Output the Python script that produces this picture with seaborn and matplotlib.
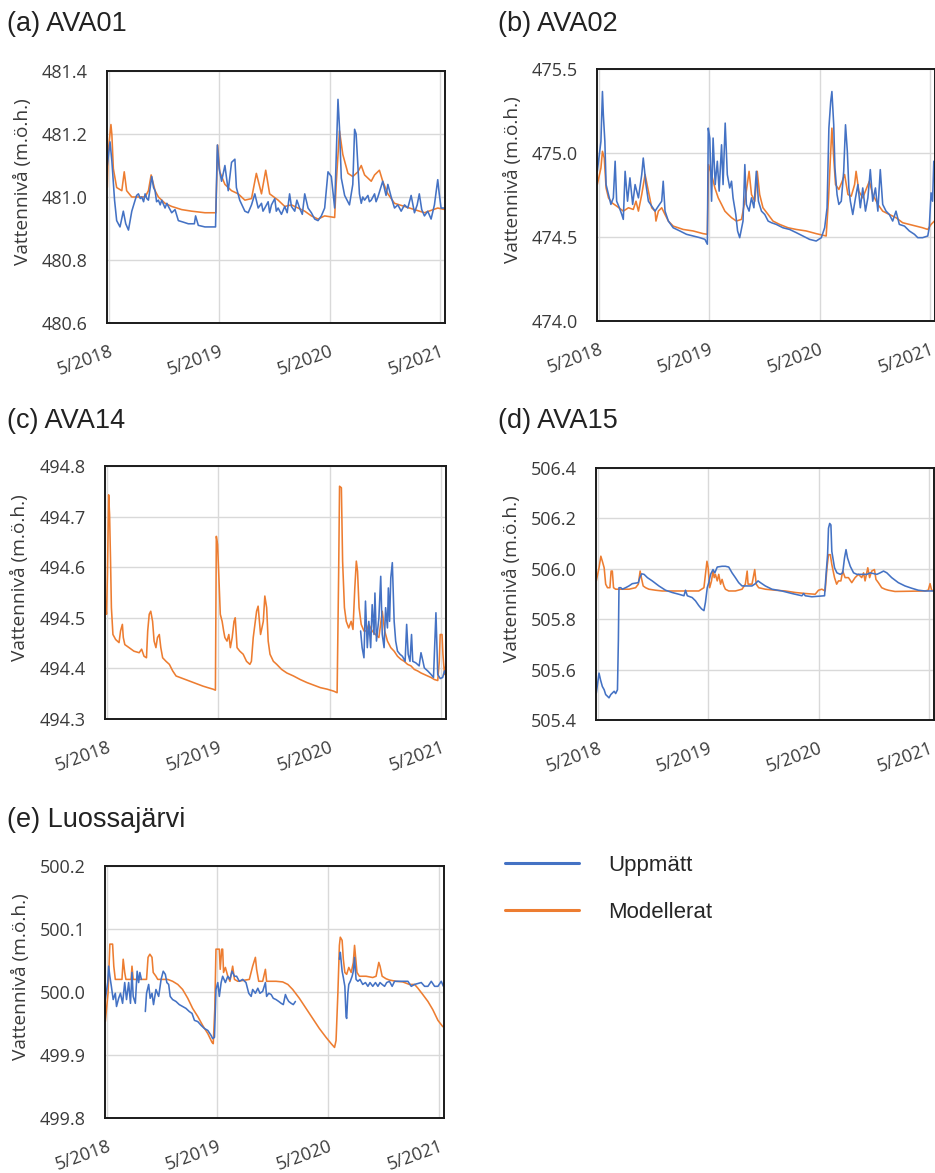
import numpy as np
import pandas as pd
import matplotlib
matplotlib.use("Agg")
import matplotlib.pyplot as plt
import matplotlib.dates as mdates
from matplotlib.lines import Line2D
import seaborn as sns

# Readings are (days since 2018-05-01, water level in m.ö.h.); NaN marks a gap.
START = pd.Timestamp("2018-05-01")
X_MIN = pd.Timestamp("2018-04-25")
X_MAX = pd.Timestamp("2021-05-17")
TICK_DATES = ["2018-05-01", "2019-05-01", "2020-05-01", "2021-05-01"]
TICK_LABELS = ["5/2018", "5/2019", "5/2020", "5/2021"]
MEASURED = "Uppmätt"
MODELLED = "Modellerat"
COLORS = {MEASURED: "#4472C4", MODELLED: "#ED7D31"}

AVA01_MEASURED = [
    (-5, 481.10), (4, 481.175), (10, 481.115), (19, 480.99), (26, 480.925), (37, 480.905),
    (48, 480.955), (56, 480.915), (65, 480.895), (76, 480.955), (87, 480.99), (92, 481.005),
    (98, 481.01), (104, 480.995), (109, 481.00), (115, 480.985), (120, 481.01), (126, 480.995),
    (131, 480.99), (142, 481.065), (148, 481.03), (153, 481.02), (158, 480.985), (164, 480.99),
    (170, 480.975), (175, 480.99), (186, 480.965), (192, 480.98), (197, 480.97), (208, 480.95),
    (219, 480.96), (230, 480.925), (247, 480.92), (263, 480.915), (283, 480.915), (287, 480.94),
    (296, 480.91), (318, 480.905), (353, 480.905),
    (359, 481.165), (365, 481.09), (373, 481.05), (384, 481.10), (395, 481.02), (406, 481.11),
    (417, 481.12), (422, 481.03), (433, 480.99), (450, 480.955), (461, 480.95), (472, 480.975),
    (483, 481.01), (494, 480.965), (505, 480.98), (510, 480.955), (516, 480.965), (527, 480.985),
    (532, 480.95), (538, 480.975), (549, 480.995), (554, 480.955), (560, 480.965), (571, 480.945),
    (582, 480.97), (590, 480.95), (598, 481.01), (604, 480.97), (615, 480.955), (622, 480.99),
    (631, 480.965), (640, 480.945), (648, 481.01), (659, 480.965), (670, 480.95),
    (681, 480.93), (692, 480.925), (703, 480.94), (714, 480.965), (725, 481.08), (736, 481.065),
    (747, 480.965), (758, 481.31), (763, 481.22), (769, 481.06), (780, 481.005), (796, 480.975),
    (807, 481.04), (813, 481.215), (818, 481.20), (829, 481.01), (835, 480.98), (840, 481.0),
    (846, 480.99), (857, 481.005), (862, 480.985), (868, 480.99), (879, 481.01), (884, 480.985),
    (890, 481.00), (906, 481.05), (917, 481.005), (923, 481.04), (934, 481.00), (945, 480.965),
    (956, 480.975), (967, 480.955), (978, 480.975), (989, 480.965), (1000, 481.005), (1011, 480.95),
    (1020, 480.975), (1027, 481.01), (1035, 480.96), (1044, 480.94), (1055, 480.955),
    (1066, 480.93), (1077, 480.975), (1088, 481.055), (1093, 481.01), (1099, 480.965),
    (1112, 480.965),
]
AVA01_MODELLED = [
    (-5, 481.03), (-2, 481.145), (7, 481.23), (10, 481.20), (15, 481.09), (26, 481.03),
    (43, 481.02), (51, 481.08), (59, 481.02), (76, 481.00), (98, 481.00), (120, 481.00),
    (131, 481.02), (140, 481.07), (153, 481.02), (164, 481.00), (186, 480.98), (208, 480.97),
    (241, 480.96), (274, 480.955), (318, 480.95), (354, 480.95), (360, 481.165), (367, 481.08),
    (384, 481.04), (406, 481.02), (428, 481.01), (450, 480.99), (472, 480.995), (488, 481.075),
    (505, 481.01), (519, 481.085), (532, 481.01), (560, 480.99), (582, 480.97), (604, 480.975),
    (626, 480.965), (648, 480.955), (670, 480.94), (692, 480.93), (714, 480.94), (747, 480.935),
    (752, 481.04), (763, 481.21), (774, 481.135), (791, 481.075), (807, 481.065), (824, 481.08),
    (835, 481.10), (846, 481.07), (868, 481.05), (879, 481.07), (895, 481.085), (906, 481.05),
    (923, 481.01), (945, 480.98), (978, 480.97), (1011, 480.96), (1044, 480.95), (1088, 480.965),
    (1112, 480.96),
]

AVA02_MEASURED = [
    (-5, 474.891), (7, 475.069), (12, 475.366), (15, 475.227), (20, 475.069), (24, 474.812),
    (32, 474.753), (40, 474.694), (48, 474.733), (54, 474.951), (59, 474.713), (68, 474.674),
    (76, 474.634), (81, 474.605), (87, 474.891), (95, 474.713), (103, 474.852), (112, 474.694),
    (120, 474.812), (131, 474.733), (142, 474.872), (147, 474.970), (156, 474.812), (164, 474.713),
    (175, 474.684), (186, 474.654), (197, 474.684), (208, 474.713), (213, 474.832), (219, 474.654),
    (230, 474.595), (246, 474.555), (268, 474.536), (290, 474.516), (312, 474.506), (334, 474.496),
    (351, 474.486), (359, 474.457), (362, 475.148), (367, 475.089), (373, 474.713), (378, 475.089),
    (385, 474.812), (392, 474.951), (398, 474.773), (406, 475.049), (411, 474.812), (418, 475.178),
    (425, 474.872), (433, 474.792), (439, 474.832), (444, 474.733), (453, 474.634), (459, 474.536),
    (466, 474.496), (477, 474.595), (483, 474.931), (488, 474.694), (497, 474.654), (505, 474.733),
    (513, 474.674), (521, 474.891), (528, 474.713), (538, 474.654), (549, 474.634), (560, 474.595),
    (571, 474.585), (587, 474.575), (609, 474.555), (631, 474.545), (653, 474.526), (675, 474.506),
    (697, 474.486), (719, 474.476), (736, 474.496), (747, 474.555), (755, 474.674), (761, 475.148),
    (767, 475.306), (771, 475.366), (777, 475.168), (781, 474.911), (788, 474.753), (794, 474.694),
    (802, 474.713), (810, 474.891), (816, 475.168), (822, 475.010), (827, 474.792), (832, 474.713),
    (840, 474.634), (849, 474.733), (857, 474.812), (865, 474.674), (873, 474.792), (882, 474.654),
    (890, 474.733), (898, 474.901), (906, 474.713), (915, 474.792), (923, 474.654), (931, 474.901),
    (939, 474.694), (950, 474.654), (961, 474.634), (972, 474.595), (983, 474.654), (994, 474.575),
    (1011, 474.565), (1027, 474.536), (1044, 474.516), (1055, 474.496), (1071, 474.496),
    (1088, 474.506), (1093, 474.555), (1099, 474.763), (1104, 474.713), (1108, 474.951),
    (1111, 474.872),
]
AVA02_MODELLED = [
    (-5, 474.812), (7, 474.911), (12, 475.010), (18, 474.970), (24, 474.792), (32, 474.733),
    (43, 474.704), (59, 474.684), (81, 474.654), (98, 474.674), (114, 474.664), (123, 474.713),
    (131, 474.654), (142, 474.753), (153, 474.872), (164, 474.773), (175, 474.674), (186, 474.654),
    (189, 474.595), (197, 474.654), (208, 474.674), (219, 474.634), (230, 474.595), (246, 474.565),
    (279, 474.545), (312, 474.536), (345, 474.520), (359, 474.516), (363, 474.931), (373, 474.872),
    (384, 474.792), (395, 474.733), (406, 474.694), (417, 474.654), (428, 474.634), (439, 474.615),
    (455, 474.595), (472, 474.605), (483, 474.713), (491, 474.812), (497, 474.891), (505, 474.753),
    (516, 474.713), (524, 474.891), (532, 474.753), (543, 474.674), (560, 474.634), (576, 474.595),
    (598, 474.575), (626, 474.555), (653, 474.545), (686, 474.536), (719, 474.520), (752, 474.506),
    (760, 474.733), (766, 474.970), (771, 475.148), (777, 474.970), (783, 474.812), (794, 474.783),
    (805, 474.832), (813, 474.872), (824, 474.753), (835, 474.743), (846, 474.812), (851, 474.891),
    (860, 474.773), (873, 474.733), (884, 474.783), (895, 474.832), (906, 474.753), (923, 474.694),
    (939, 474.654), (961, 474.634), (983, 474.615), (1005, 474.585), (1027, 474.575),
    (1049, 474.565), (1071, 474.555), (1088, 474.545), (1099, 474.575), (1110, 474.595),
]

AVA14_MEASURED = [
    (832, 494.474), (837, 494.441), (843, 494.421), (848, 494.533), (854, 494.441), (859, 494.493),
    (865, 494.441), (870, 494.526), (876, 494.467), (879, 494.549), (884, 494.454), (892, 494.500),
    (898, 494.582), (903, 494.467), (909, 494.441), (914, 494.520), (920, 494.480), (923, 494.559),
    (927, 494.493), (931, 494.579), (936, 494.609), (942, 494.493), (947, 494.454), (953, 494.434),
    (961, 494.428), (969, 494.424), (978, 494.414), (983, 494.487), (988, 494.428), (994, 494.414),
    (999, 494.467), (1003, 494.414), (1013, 494.411), (1024, 494.405), (1030, 494.431),
    (1035, 494.418), (1041, 494.401), (1052, 494.395), (1063, 494.388), (1071, 494.382),
    (1079, 494.510), (1085, 494.388), (1093, 494.380), (1101, 494.382), (1107, 494.395),
    (1112, 494.388),
]
AVA14_MODELLED = [
    (-5, 494.533), (-1, 494.507), (2, 494.586), (6, 494.743), (9, 494.704), (12, 494.618),
    (15, 494.520), (20, 494.467), (29, 494.457), (40, 494.451), (45, 494.474), (51, 494.487),
    (54, 494.461), (59, 494.447), (73, 494.441), (89, 494.434), (106, 494.431), (114, 494.438),
    (122, 494.424), (130, 494.421), (134, 494.474), (139, 494.507), (144, 494.513), (150, 494.493),
    (155, 494.454), (161, 494.441), (166, 494.461), (172, 494.467), (177, 494.441), (183, 494.421),
    (194, 494.414), (205, 494.408), (216, 494.395), (227, 494.385), (249, 494.380), (271, 494.375),
    (293, 494.370), (315, 494.365), (331, 494.362), (348, 494.359), (356, 494.357), (359, 494.661),
    (363, 494.645), (367, 494.586), (372, 494.507), (378, 494.493), (383, 494.474), (387, 494.461),
    (394, 494.454), (400, 494.467), (405, 494.441), (411, 494.461), (417, 494.493), (421, 494.500),
    (427, 494.441), (436, 494.434), (447, 494.428), (458, 494.414), (469, 494.408), (474, 494.414),
    (480, 494.461), (491, 494.513), (496, 494.523), (504, 494.467), (513, 494.493), (518, 494.543),
    (524, 494.520), (529, 494.454), (535, 494.428), (546, 494.414), (557, 494.408), (573, 494.398),
    (590, 494.391), (612, 494.385), (634, 494.378), (656, 494.372), (678, 494.367), (700, 494.362),
    (722, 494.359), (744, 494.355), (755, 494.352), (760, 494.586), (763, 494.760), (769, 494.757),
    (773, 494.612), (779, 494.520), (785, 494.493), (793, 494.480), (801, 494.493), (807, 494.477),
    (813, 494.559), (818, 494.612), (822, 494.592), (827, 494.520), (834, 494.487), (843, 494.474),
    (851, 494.474), (859, 494.487), (870, 494.474), (881, 494.467), (892, 494.461), (903, 494.513),
    (911, 494.474), (920, 494.454), (931, 494.441), (942, 494.434), (953, 494.424), (964, 494.418),
    (975, 494.414), (986, 494.408), (997, 494.405), (1008, 494.398), (1019, 494.395),
    (1030, 494.391), (1041, 494.388), (1052, 494.385), (1063, 494.382), (1074, 494.378),
    (1085, 494.376), (1090, 494.414), (1093, 494.467), (1099, 494.467), (1102, 494.428),
    (1107, 494.388), (1112, 494.408),
]

AVA15_MEASURED = [
    (-5, 505.507), (4, 505.586), (9, 505.559), (15, 505.533), (21, 505.520), (26, 505.501),
    (32, 505.494), (37, 505.488), (43, 505.501), (48, 505.507), (54, 505.514), (59, 505.505),
    (65, 505.520), (68, 505.716), (70, 505.925), (76, 505.925), (81, 505.919), (92, 505.925),
    (103, 505.932), (114, 505.941), (134, 505.945), (139, 505.965), (145, 505.980), (153, 505.978),
    (164, 505.965), (180, 505.952), (202, 505.932), (224, 505.915), (246, 505.906), (268, 505.899),
    (285, 505.893), (290, 505.915), (296, 505.893), (312, 505.886), (323, 505.873), (334, 505.854),
    (343, 505.841), (351, 505.834), (356, 505.867), (362, 505.925), (367, 505.945), (373, 505.978),
    (381, 505.997), (387, 505.984), (395, 506.007), (411, 506.010), (422, 506.010), (433, 506.007),
    (444, 505.984), (455, 505.965), (466, 505.945), (477, 505.932), (510, 505.932), (521, 505.941),
    (530, 505.952), (538, 505.945), (554, 505.932), (576, 505.919), (609, 505.912), (642, 505.902),
    (675, 505.893), (681, 505.902), (686, 505.893), (708, 505.889), (750, 505.893), (755, 505.978),
    (760, 506.056), (763, 506.161), (767, 506.180), (771, 506.174), (774, 506.069), (783, 506.004),
    (791, 505.984), (802, 505.978), (810, 505.984), (816, 506.043), (821, 506.076), (826, 506.043),
    (835, 506.010), (846, 505.984), (857, 505.978), (890, 505.978), (901, 505.984), (923, 505.978),
    (934, 505.984), (945, 505.991), (956, 505.984), (972, 505.965), (994, 505.945), (1016, 505.932),
    (1038, 505.923), (1060, 505.915), (1082, 505.912), (1115, 505.912),
]
AVA15_MODELLED = [
    (-5, 505.952), (4, 506.004), (10, 506.050), (15, 506.030), (21, 506.004), (26, 505.939),
    (32, 505.925), (40, 505.925), (44, 505.991), (48, 505.991), (52, 505.925), (59, 505.919),
    (70, 505.919), (103, 505.919), (125, 505.925), (134, 505.939), (140, 505.991), (144, 505.965),
    (150, 505.932), (158, 505.925), (169, 505.919), (191, 505.915), (213, 505.912), (334, 505.912),
    (351, 505.925), (356, 505.978), (361, 506.030), (365, 506.004), (370, 505.925), (376, 505.952),
    (381, 505.991), (385, 505.965), (389, 505.978), (395, 505.952), (400, 505.978), (406, 505.939),
    (411, 505.958), (417, 505.932), (422, 505.919), (433, 505.912), (455, 505.912), (477, 505.919),
    (488, 505.939), (494, 505.991), (497, 505.939), (510, 505.939), (519, 505.997), (524, 505.939),
    (532, 505.925), (554, 505.919), (587, 505.915), (620, 505.912), (653, 505.906), (686, 505.902),
    (719, 505.899), (730, 505.915), (741, 505.919), (752, 505.912), (758, 506.004), (763, 506.056),
    (769, 506.056), (774, 506.017), (783, 505.965), (790, 505.939), (796, 505.952), (804, 505.952),
    (810, 505.991), (818, 505.965), (829, 505.965), (840, 505.945), (851, 505.965), (862, 505.978),
    (873, 505.965), (879, 505.984), (884, 505.952), (893, 506.004), (899, 505.965), (906, 505.991),
    (915, 505.997), (920, 505.958), (928, 505.945), (939, 505.925), (950, 505.919), (961, 505.915),
    (983, 505.910), (1082, 505.912), (1093, 505.915), (1099, 505.941), (1104, 505.915),
    (1115, 505.912),
]

LUOSSA_MEASURED = [
    (-5, 499.988), (3, 500.015), (6, 500.041), (10, 500.025), (15, 500.009), (21, 499.988),
    (28, 499.998), (32, 499.977), (39, 499.990), (45, 499.998), (52, 499.982), (59, 500.015),
    (65, 499.988), (72, 500.015), (78, 499.982), (83, 500.031), (87, 499.993), (94, 499.982),
    (100, 500.033), (105, 500.015), (109, 500.031), (114, 500.020), (120, np.nan),
    (127, 499.969), (131, 499.998), (138, 500.012), (143, 499.990), (149, 499.998), (154, 499.980),
    (162, 500.004), (171, 499.993), (179, 500.020), (186, 500.033), (193, 500.028), (198, 500.015),
    (204, 500.012), (209, 499.993), (217, 499.988), (228, 499.985), (239, 499.980), (250, 499.977),
    (261, 499.974), (272, 499.969), (281, 499.966), (289, 499.955), (300, 499.953), (311, 499.947),
    (322, 499.942), (333, 499.939), (344, 499.931), (349, 499.926), (355, 499.928), (360, 500.004),
    (366, 500.015), (371, 499.993), (377, 500.015), (382, 500.025), (391, 500.015), (399, 500.025),
    (406, 500.020), (413, 500.033), (421, 500.025), (428, 500.025), (437, 500.017), (448, 500.020),
    (459, 500.015), (468, 499.998), (476, 499.993), (481, 500.004), (490, 499.998), (498, 500.006),
    (505, 499.998), (514, 500.001), (523, 500.015), (527, 499.993), (534, 499.998), (542, 499.996),
    (549, 499.990), (558, 499.988), (567, 499.985), (575, 499.982), (582, 499.980), (589, 499.996),
    (594, 499.990), (600, 499.985), (608, 499.982), (615, 499.980), (622, 499.985), (700, np.nan),
    (767, 500.052), (770, 500.063), (776, 500.033), (780, 500.023), (785, 500.009), (789, 499.961),
    (791, 499.958), (795, 499.998), (798, 500.012), (803, 500.017), (809, 500.025), (813, 500.033),
    (817, 500.055), (822, 500.020), (828, 500.017), (835, 500.020), (844, 500.012), (853, 500.015),
    (861, 500.009), (868, 500.015), (877, 500.009), (886, 500.015), (894, 500.009), (901, 500.015),
    (908, 500.012), (916, 500.009), (923, 500.015), (932, 500.017), (941, 500.009), (949, 500.017),
    (993, 500.017), (1004, 500.009), (1015, 500.012), (1037, 500.015), (1048, 500.009),
    (1059, 500.009), (1070, 500.017), (1081, 500.009), (1092, 500.009), (1103, 500.017),
    (1110, 500.009), (1117, 500.017),
]
LUOSSA_MODELLED = [
    (-5, 499.953), (4, 499.998), (7, 500.036), (10, 500.076), (19, 500.076), (23, 500.041),
    (28, 500.020), (50, 500.020), (54, 500.052), (59, 500.031), (63, 500.020), (80, 500.020),
    (83, 500.041), (87, 500.020), (131, 500.020), (136, 500.055), (142, 500.060), (149, 500.055),
    (153, 500.031), (162, 500.025), (168, 500.020), (201, 500.020), (217, 500.017), (234, 500.012),
    (250, 500.004), (267, 499.990), (283, 499.974), (300, 499.961), (316, 499.947), (333, 499.934),
    (347, 499.920), (351, 499.918), (356, 499.972), (360, 500.068), (371, 500.068), (374, 500.036),
    (379, 500.068), (382, 500.068), (385, 500.031), (391, 500.039), (399, 500.025), (406, 500.017),
    (415, 500.041), (421, 500.020), (432, 500.017), (470, 500.020), (481, 500.041), (490, 500.055),
    (494, 500.036), (501, 500.017), (514, 500.017), (523, 500.036), (527, 500.017), (558, 500.017),
    (580, 500.016), (597, 500.012), (613, 500.004), (635, 499.990), (657, 499.974), (679, 499.958),
    (701, 499.942), (723, 499.928), (740, 499.918), (751, 499.912), (756, 499.923), (762, 499.998),
    (767, 500.074), (770, 500.087), (776, 500.082), (780, 500.052), (785, 500.031), (791, 500.028),
    (798, 500.039), (806, 500.031), (813, 500.047), (817, 500.074), (820, 500.058), (825, 500.031),
    (833, 500.025), (855, 500.025), (877, 500.023), (888, 500.025), (897, 500.047), (901, 500.041),
    (908, 500.025), (921, 500.021), (932, 500.019), (954, 500.017), (976, 500.016), (998, 500.012),
    (1015, 500.012), (1026, 500.006), (1042, 499.996), (1059, 499.985), (1075, 499.972),
    (1092, 499.955), (1108, 499.945), (1117, 499.945),
]

AVA01_YTICKS = [480.6, 480.8, 481.0, 481.2, 481.4]
AVA02_YTICKS = [474.0, 474.5, 475.0, 475.5]
AVA14_YTICKS = [494.3, 494.4, 494.5, 494.6, 494.7, 494.8]
AVA15_YTICKS = [505.4, 505.6, 505.8, 506.0, 506.2, 506.4]
LUOSSA_YTICKS = [499.8, 499.9, 500.0, 500.1, 500.2]

PANELS = [
    ("(a) AVA01", AVA01_MEASURED, AVA01_MODELLED, AVA01_YTICKS),
    ("(b) AVA02", AVA02_MEASURED, AVA02_MODELLED, AVA02_YTICKS),
    ("(c) AVA14", AVA14_MEASURED, AVA14_MODELLED, AVA14_YTICKS),
    ("(d) AVA15", AVA15_MEASURED, AVA15_MODELLED, AVA15_YTICKS),
    ("(e) Luossajärvi", LUOSSA_MEASURED, LUOSSA_MODELLED, LUOSSA_YTICKS),
]


def to_frame(readings, series):
    days = np.array([d for d, _ in readings], dtype=float)
    level = np.array([v for _, v in readings], dtype=float)
    frame = pd.DataFrame({
        "date": START + pd.to_timedelta(days, unit="D"),
        "level": level,
        "series": series,
        "segment": np.cumsum(np.isnan(level)),
    })
    return frame.dropna(subset=["level"])


sns.set_style("white")
plt.rcParams["font.family"] = ["Liberation Sans", "DejaVu Sans"]

W, H = 935, 1173
fig = plt.figure(figsize=(W / 100, H / 100), dpi=100)

# axes boxes in pixels: left, top, right, bottom
boxes = [
    (107, 71, 445, 323),
    (597, 69, 935, 321),
    (105, 466, 446, 719),
    (596, 468, 934, 720),
    (105, 866, 444, 1118),
]
title_pos = [(7, 31), (498, 31), (7, 428), (498, 428), (7, 827)]

tick_font = "Open Sans"
text_grey = "#3a3a3a"
x_ticks = mdates.date2num(pd.to_datetime(TICK_DATES))

for (title, meas, model, yticks), (l, t, r, b), (tx, ty) in zip(PANELS, boxes, title_pos):
    ax = fig.add_axes([l / W, 1 - b / H, (r - l) / W, (b - t) / H])
    data = pd.concat([to_frame(model, MODELLED), to_frame(meas, MEASURED)], ignore_index=True)
    sns.lineplot(
        data=data, x="date", y="level", hue="series",
        hue_order=[MODELLED, MEASURED], palette=COLORS,
        units="segment", estimator=None, sort=False,
        linewidth=1.15, legend=False, ax=ax,
    )
    ax.set_xlim(mdates.date2num(X_MIN), mdates.date2num(X_MAX))
    ax.set_ylim(yticks[0], yticks[-1])
    ax.set_xticks(x_ticks)
    ax.set_xticklabels(TICK_LABELS, rotation=20, ha="right", va="top",
                       rotation_mode="anchor", fontsize=13, family=tick_font, color=text_grey)
    ax.set_yticks(yticks)
    ax.set_yticklabels([f"{v:.1f}" for v in yticks], fontsize=13,
                       family=tick_font, color=text_grey)
    ax.tick_params(axis="both", length=0)
    ax.tick_params(axis="y", pad=14)
    ax.tick_params(axis="x", pad=14)
    ax.grid(True, color="#d9d9d9", linewidth=1.0)
    ax.set_axisbelow(True)
    for s in ax.spines.values():
        s.set_color("#1a1a1a")
        s.set_linewidth(1.4)
    ax.set_xlabel("")
    ax.set_ylabel("Vattennivå (m.ö.h.)", fontsize=13.8, family=tick_font, color=text_grey)
    ax.yaxis.set_label_coords(-0.222, 0.56)
    fig.text(tx / W, 1 - ty / H, title, fontsize=19.5, va="baseline", ha="left", color="#222222")

handles = [Line2D([], [], color=COLORS[MEASURED], lw=2.2),
           Line2D([], [], color=COLORS[MODELLED], lw=2.2)]
fig.legend(handles, [MEASURED, MODELLED], loc="upper left",
           bbox_to_anchor=(505 / W, 1 - 855 / H), frameon=False,
           fontsize=16, handlelength=3.35, handletextpad=1.3,
           labelspacing=1.18, borderpad=0, borderaxespad=0)

fig.savefig("out.png", dpi=100)
